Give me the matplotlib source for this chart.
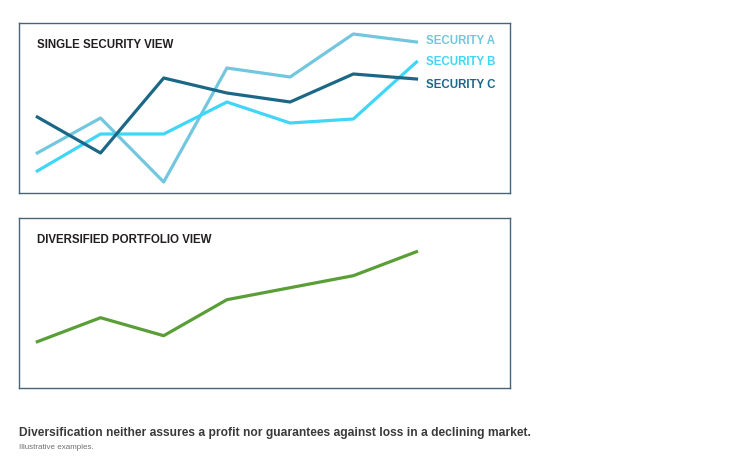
import matplotlib.pyplot as plt

plt.rcParams['font.family'] = ['Liberation Sans', 'DejaVu Sans']

periods = [0, 1, 2, 3, 4, 5, 6]
security_a = [40, 75, 11, 125, 116, 159, 151]
security_b = [22, 59, 59, 91, 70, 74, 131]
security_c = [76, 40, 115, 100, 91, 119, 114]
portfolio = [46, 70, 52, 88, 100, 112, 136]

series_names = ["SECURITY A", "SECURITY B", "SECURITY C"]
series_colors = ["#72c7de", "#3fd6f7", "#1b6886"]

W, H = 733, 471
fig = plt.figure(figsize=(W / 100, H / 100), dpi=100)


def box_axes(left, top, right, bottom):
    ax = fig.add_axes([left / W, 1 - bottom / H, (right - left) / W, (bottom - top) / H])
    ax.set_xticks([])
    ax.set_yticks([])
    for s in ax.spines.values():
        s.set_color("#46647a")
        s.set_linewidth(1.0)
    # x positions: first point at pixel 37.3, step 63.2
    ax.set_xlim((left - 37.3) / 63.2, (right - 37.3) / 63.2)
    return ax


# top panel
ax1 = box_axes(19.3, 22.7, 510, 193)
ax1.set_ylim(0, 170.3)
for vals, col in zip([security_a, security_b, security_c], series_colors):
    ax1.plot(periods, vals, color=col, lw=2.3)
fig.text(37 / W, 1 - 44.5 / H, "SINGLE SECURITY VIEW", fontsize=8.3,
         fontweight="bold", color="#231f20", va="center", ha="left")

label_y = [40.5, 62, 84.5]
for name, col, yy in zip(series_names, series_colors, label_y):
    fig.text(426 / W, 1 - yy / H, name, fontsize=8.3, fontweight="bold",
             color=col, va="center", ha="left")

# bottom panel
ax2 = box_axes(19.3, 218.3, 510, 387.7)
ax2.set_ylim(0, 169.4)
ax2.plot(periods, portfolio, color="#5a9e37", lw=2.3)
fig.text(37 / W, 1 - 240 / H, "DIVERSIFIED PORTFOLIO VIEW", fontsize=8.3,
         fontweight="bold", color="#231f20", va="center", ha="left")

# footnotes
fig.text(19 / W, 1 - 433 / H,
         "Diversification neither assures a profit nor guarantees against loss in a declining market.",
         fontsize=8.65, fontweight="bold", color="#3a3a3a", va="center", ha="left")
fig.text(19 / W, 1 - 447.5 / H, "Illustrative examples.", fontsize=5.8,
         color="#707070", va="center", ha="left")

fig.savefig("out.png", dpi=100, facecolor="white")
